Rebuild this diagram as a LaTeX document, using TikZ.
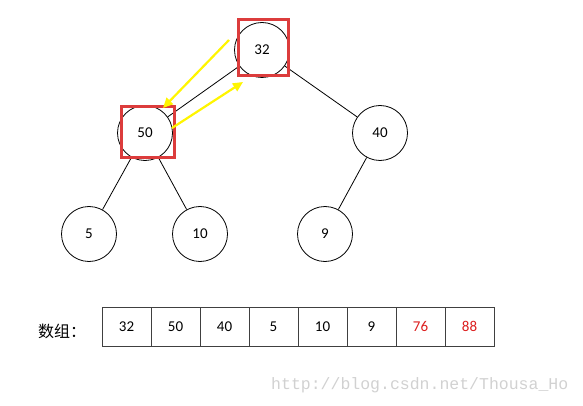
\documentclass[tikz,border=0pt]{standalone}
\usepackage{fontspec}
\setmainfont{Carlito}
\newfontfamily\cjk{Noto Sans CJK SC}
\newfontfamily\wmfont{Liberation Mono}
\usetikzlibrary{arrows.meta}
\definecolor{boxred}{RGB}{220,60,60}
\definecolor{arrowyel}{RGB}{255,245,0}
\definecolor{numred}{RGB}{220,30,30}
\tikzset{
  heapnode/.style={circle,draw=black,line width=0.8pt,minimum size=55pt,inner sep=0pt,font=\fontsize{15}{18}\selectfont},
  hilite/.style={draw=boxred,line width=3pt,inner sep=0pt},
  cell/.style={draw=black!75,line width=0.8pt,minimum width=49pt,minimum height=39pt,inner sep=0pt,outer sep=0pt,anchor=west,font=\fontsize{15}{18}\selectfont},
  edge/.style={line width=0.8pt},
  yarrow/.style={draw=arrowyel,line width=2.2pt,-{Triangle[length=10pt,width=9pt]}}
}
\begin{document}
\begin{tikzpicture}[x=1pt,y=-1pt]
\useasboundingbox (0,0) rectangle (583,406);
\node[heapnode] (n32) at (262,50) {32};
\node[heapnode] (n50) at (145,133) {50};
\node[heapnode] (n40) at (380,133) {40};
\node[heapnode] (n5) at (89,234) {5};
\node[heapnode] (n10) at (200,234) {10};
\node[heapnode] (n9) at (325,234) {9};
\draw[edge] (n32) -- (n50);
\draw[edge] (n32) -- (n40);
\draw[edge] (n50) -- (n5);
\draw[edge] (n50) -- (n10);
\draw[edge] (n40) -- (n9);
\draw[hilite] (238.5,19.5) rectangle (288.5,75.5);
\draw[hilite] (121.5,106.5) rectangle (174.5,157.5);
\coordinate (ya1) at (229,40);
\coordinate (ya2) at (163,108);
\coordinate (yb1) at (172,128);
\coordinate (yb2) at (243,82);
\draw[yarrow] (ya1) -- (ya2);
\draw[yarrow] (yb1) -- (yb2);
\node[anchor=center,font=\cjk\fontsize{16}{18}\selectfont] (lbl) at (62,331) {数组：};
\node[cell] (c1) at (102,326.5) {32};
\node[cell] (c2) at (c1.east) {50};
\node[cell] (c3) at (c2.east) {40};
\node[cell] (c4) at (c3.east) {5};
\node[cell] (c5) at (c4.east) {10};
\node[cell] (c6) at (c5.east) {9};
\node[cell,text=numred] (c7) at (c6.east) {76};
\node[cell,text=numred] (c8) at (c7.east) {88};
\node[anchor=west,text=black!18,font=\wmfont\fontsize{16.5}{18}\selectfont,inner sep=0pt] (wm) at (271,385) {http://blog.csdn.net/Thousa\_Ho};
\end{tikzpicture}
\end{document}
